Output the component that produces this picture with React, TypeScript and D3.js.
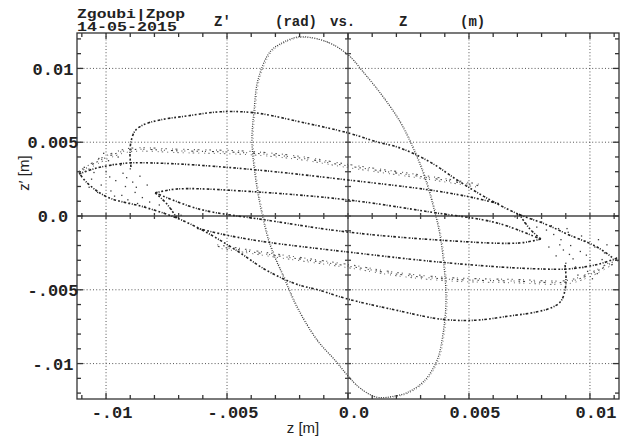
import React from 'react';
import * as d3 from 'd3';

type Pt = [number, number];

// Canvas and plot frame
const W = 620;
const H = 439;
const PLOT = { left: 77, right: 619, top: 33, bottom: 399 };

// Axis domains (metres / radians)
const Z_DOMAIN: [number, number] = [-0.0112, 0.0112];
const ZP_DOMAIN: [number, number] = [-0.0124, 0.0124];

const zTicks = [-0.01, -0.005, 0, 0.005, 0.01];
const zTickLabels = ['-.01', '-.005', '0.0', '0.005', '0.01'];
const zpTicks = [-0.01, -0.005, 0, 0.005, 0.01];
const zpTickLabels = ['-.01', '-.005', '0.0', '0.005', '0.01'];
const MINOR_STEP = 0.001;

// Large upright invariant ellipse (closed)
const bigOrbit: Pt[] = [
  [-1.98e-3, 12.14e-3], [-0.87e-3, 11.8e-3], [0, 10.92e-3], [0.62e-3, 9.77e-3],
  [1.45e-3, 8.07e-3], [2.15e-3, 6.38e-3], [2.69e-3, 4.61e-3], [3.14e-3, 2.78e-3],
  [3.51e-3, 0.75e-3], [3.8e-3, -1.29e-3], [3.97e-3, -3.46e-3], [4.05e-3, -5.7e-3],
  [3.93e-3, -7.94e-3], [3.68e-3, -9.77e-3], [3.14e-3, -11.19e-3], [2.48e-3, -11.94e-3],
  [1.9e-3, -12.21e-3], [1.2e-3, -12.28e-3], [0.5e-3, -11.67e-3], [0, -10.85e-3],
  [-0.54e-3, -9.77e-3], [-1.28e-3, -8.41e-3], [-2.11e-3, -6.17e-3], [-2.64e-3, -4.21e-3],
  [-3.22e-3, -1.97e-3], [-3.59e-3, 0.41e-3], [-3.84e-3, 2.78e-3], [-3.97e-3, 5.16e-3],
  [-3.88e-3, 7.19e-3], [-3.72e-3, 9.23e-3], [-3.22e-3, 11.13e-3], [-2.64e-3, 11.8e-3],
];

// Outer flat orbit: upper branch (left hook -> right tip)
const outerUpper: Pt[] = [
  [-8.97e-3, 3.32e-3], [-9.01e-3, 4.14e-3], [-8.97e-3, 5.02e-3], [-8.8e-3, 5.77e-3],
  [-8.47e-3, 6.17e-3], [-7.77e-3, 6.51e-3], [-6.65e-3, 6.78e-3], [-5.29e-3, 7.06e-3],
  [-3.84e-3, 6.99e-3], [-1.98e-3, 6.38e-3], [0, 5.63e-3], [1.2e-3, 5.02e-3],
  [2.15e-3, 4.61e-3], [3.39e-3, 3.66e-3], [4.63e-3, 2.31e-3], [5.87e-3, 1.09e-3],
  [7.02e-3, 0.14e-3], [8.14e-3, -0.54e-3], [9.05e-3, -1.22e-3], [10.29e-3, -2.1e-3],
  [10.95e-3, -2.85e-3],
];

// Outer flat orbit: lower branch (right hook -> left tip)
const outerLower: Pt[] = [
  [8.97e-3, -3.32e-3], [9.01e-3, -4.14e-3], [8.97e-3, -5.02e-3], [8.8e-3, -5.77e-3],
  [8.47e-3, -6.17e-3], [7.77e-3, -6.51e-3], [6.65e-3, -6.78e-3], [5.29e-3, -7.06e-3],
  [3.84e-3, -6.99e-3], [1.98e-3, -6.38e-3], [0, -5.63e-3], [-1.2e-3, -5.02e-3],
  [-2.15e-3, -4.61e-3], [-3.39e-3, -3.66e-3], [-4.63e-3, -2.31e-3], [-5.87e-3, -1.09e-3],
  [-7.07e-3, -0.14e-3], [-8.43e-3, 0.61e-3], [-9.96e-3, 1.29e-3], [-10.78e-3, 2.24e-3],
  [-11.07e-3, 2.82e-3],
];

// Middle orbit branches
const middleUpper: Pt[] = [
  [-11.12e-3, 2.85e-3], [-10.37e-3, 3.26e-3], [-9.42e-3, 3.53e-3], [-9.01e-3, 3.6e-3],
  [-7.07e-3, 3.53e-3], [-3.76e-3, 3.12e-3], [0, 2.44e-3], [3.39e-3, 1.76e-3],
  [5.04e-3, 1.29e-3], [6.28e-3, 0.81e-3],
];
const middleLower: Pt[] = [
  [11.12e-3, -2.85e-3], [10.37e-3, -3.26e-3], [9.42e-3, -3.53e-3], [9.01e-3, -3.6e-3],
  [7.07e-3, -3.53e-3], [3.76e-3, -3.12e-3], [0, -2.44e-3], [-3.39e-3, -1.76e-3],
  [-5.04e-3, -1.29e-3], [-6.28e-3, -0.81e-3],
];

// Inner arrow-shaped orbit
const innerUpper: Pt[] = [
  [-7.97e-3, 1.56e-3], [-7.07e-3, 1.83e-3], [-3.76e-3, 1.63e-3], [0, 1.09e-3],
  [3.39e-3, 0.27e-3], [6.16e-3, -0.47e-3], [7.85e-3, -1.49e-3],
];
const innerLower: Pt[] = [
  [7.97e-3, -1.56e-3], [7.07e-3, -1.83e-3], [3.76e-3, -1.63e-3], [0, -1.09e-3],
  [-3.39e-3, -0.27e-3], [-6.16e-3, 0.47e-3], [-7.85e-3, 1.49e-3],
];

// Short links between the outer branches and the inner arrow tips
const linkLeft: Pt[] = [[-7.07e-3, -0.14e-3], [-7.52e-3, 0.88e-3], [-7.97e-3, 1.56e-3]];
const linkRight: Pt[] = [[7.07e-3, 0.14e-3], [7.52e-3, -0.88e-3], [7.97e-3, -1.56e-3]];

// Diffuse (scattered) orbit branches
const diffuseUpper: Pt[] = [
  [-11.12e-3, 2.92e-3], [-10.45e-3, 3.6e-3], [-9.75e-3, 4.14e-3], [-9.01e-3, 4.48e-3],
  [-6.94e-3, 4.41e-3], [-4.05e-3, 4.27e-3], [-1.98e-3, 3.93e-3], [0, 3.39e-3],
  [3.39e-3, 2.58e-3], [5.45e-3, 2.04e-3],
];
const diffuseLower: Pt[] = [
  [11.12e-3, -2.92e-3], [10.45e-3, -3.6e-3], [9.75e-3, -4.14e-3], [9.01e-3, -4.48e-3],
  [6.94e-3, -4.41e-3], [4.05e-3, -4.27e-3], [1.98e-3, -3.93e-3], [0, -3.39e-3],
  [-3.39e-3, -2.58e-3], [-5.45e-3, -2.04e-3],
];

// Scattered particles near the turning tips
const cloudLeft: Pt[] = [
  [-10.9e-3, 3.3e-3], [-10.6e-3, 2.5e-3], [-10.3e-3, 3.9e-3], [-10.2e-3, 2.1e-3],
  [-10.0e-3, 3.0e-3], [-9.8e-3, 1.7e-3], [-9.7e-3, 3.5e-3], [-9.6e-3, 2.4e-3],
  [-9.5e-3, 4.0e-3], [-9.35e-3, 1.4e-3], [-9.3e-3, 2.9e-3], [-9.2e-3, 2.0e-3],
  [-9.1e-3, 1.1e-3], [-9.0e-3, 3.2e-3], [-8.9e-3, 2.3e-3], [-8.8e-3, 1.6e-3],
  [-8.7e-3, 0.85e-3], [-8.6e-3, 2.7e-3], [-8.5e-3, 1.25e-3], [-8.4e-3, 0.65e-3],
  [-8.2e-3, 0.95e-3], [-8.0e-3, 0.4e-3], [-7.8e-3, 0.75e-3], [-7.6e-3, 0.2e-3],
  [-10.5e-3, 2.95e-3], [-10.1e-3, 4.25e-3], [-9.65e-3, 1.35e-3], [-9.4e-3, 3.45e-3],
  [-9.05e-3, 0.85e-3], [-10.7e-3, 1.95e-3], [-9.85e-3, 2.65e-3], [-8.3e-3, 2.1e-3],
  [-7.3e-3, 0.45e-3], [-6.9e-3, 0.05e-3], [-10.35e-3, 1.6e-3], [-9.9e-3, 3.75e-3],
  [-9.15e-3, 2.6e-3], [-8.75e-3, 1.95e-3],
];
const cloudRight: Pt[] = [
  [10.9e-3, -3.3e-3], [10.6e-3, -2.5e-3], [10.3e-3, -3.9e-3], [10.2e-3, -2.1e-3],
  [10.0e-3, -3.0e-3], [9.8e-3, -1.7e-3], [9.7e-3, -3.5e-3], [9.6e-3, -2.4e-3],
  [9.5e-3, -4.0e-3], [9.35e-3, -1.4e-3], [9.3e-3, -2.9e-3], [9.2e-3, -2.0e-3],
  [9.1e-3, -1.1e-3], [9.0e-3, -3.2e-3], [8.9e-3, -2.3e-3], [8.8e-3, -1.6e-3],
  [8.7e-3, -0.85e-3], [8.6e-3, -2.7e-3], [8.5e-3, -1.25e-3], [8.4e-3, -0.65e-3],
  [8.2e-3, -0.95e-3], [8.0e-3, -0.4e-3], [7.8e-3, -0.75e-3], [7.6e-3, -0.2e-3],
  [10.5e-3, -2.95e-3], [10.1e-3, -4.25e-3], [9.65e-3, -1.35e-3], [9.4e-3, -3.45e-3],
  [9.05e-3, -0.85e-3], [10.7e-3, -1.95e-3], [9.85e-3, -2.65e-3], [8.3e-3, -2.1e-3],
  [7.3e-3, -0.45e-3], [6.9e-3, -0.05e-3], [10.35e-3, -1.6e-3], [9.9e-3, -3.75e-3],
  [9.15e-3, -2.6e-3], [8.75e-3, -1.95e-3],
];

const MONO = "'Liberation Mono', 'DejaVu Sans Mono', 'Courier New', monospace";
const SANS = "'Liberation Sans', Arial, Helvetica, sans-serif";
const INK = '#222';

export default function App() {
  const x = d3.scaleLinear().domain(Z_DOMAIN).range([PLOT.left, PLOT.right]);
  const y = d3.scaleLinear().domain(ZP_DOMAIN).range([PLOT.bottom, PLOT.top]);

  const open = d3
    .line<Pt>()
    .x((d) => x(d[0]))
    .y((d) => y(d[1]))
    .curve(d3.curveCatmullRom.alpha(0.5));
  const closed = d3
    .line<Pt>()
    .x((d) => x(d[0]))
    .y((d) => y(d[1]))
    .curve(d3.curveCatmullRomClosed.alpha(0.5));

  const zMinor = d3.range(-11, 12).map((k) => k * MINOR_STEP);
  const zpMinor = d3.range(-12, 13).map((k) => k * MINOR_STEP);
  const isMajor = (v: number) => Math.abs(Math.round(v * 1000) % 5) === 0;

  const x0 = x(0);
  const y0 = y(0);

  const sharpBranches = [outerUpper, outerLower, middleUpper, middleLower, innerUpper, innerLower, linkLeft, linkRight];
  const diffuseBranches = [diffuseUpper, diffuseLower];

  return (
    <svg
      width={W}
      height={H}
      viewBox={`0 0 ${W} ${H}`}
      style={{ position: 'absolute', left: 0, top: 0, background: '#fff' }}
    >
      <rect x={0} y={0} width={W} height={H} fill="#fff" />

      {/* dotted grid at major ticks */}
      <g stroke="#555" strokeWidth={1} strokeDasharray="1 2.2">
        {zTicks.filter((v) => v !== 0).map((v) => (
          <line key={`gx${v}`} x1={x(v)} x2={x(v)} y1={PLOT.top} y2={PLOT.bottom} />
        ))}
        {zpTicks.filter((v) => v !== 0).map((v) => (
          <line key={`gy${v}`} x1={PLOT.left} x2={PLOT.right} y1={y(v)} y2={y(v)} />
        ))}
      </g>

      {/* zero axes with cross ticks */}
      <g stroke="#444" strokeWidth={1.3}>
        <line x1={x0} x2={x0} y1={PLOT.top} y2={PLOT.bottom} />
        <line x1={PLOT.left} x2={PLOT.right} y1={y0} y2={y0} />
        {zpMinor.map((v) => (
          <line key={`ay${v}`} x1={x0 - 3} x2={x0 + 3} y1={y(v)} y2={y(v)} />
        ))}
        {zMinor.map((v) => (
          <line key={`ax${v}`} x1={x(v)} x2={x(v)} y1={y0 - 3} y2={y0 + 3} />
        ))}
      </g>

      {/* frame and frame ticks */}
      <g stroke="#333" strokeWidth={1.3}>
        <rect
          x={PLOT.left}
          y={PLOT.top}
          width={PLOT.right - PLOT.left}
          height={PLOT.bottom - PLOT.top}
          fill="none"
        />
        {zMinor.map((v) => {
          const len = isMajor(v) ? 6 : 4;
          return (
            <g key={`fx${v}`}>
              <line x1={x(v)} x2={x(v)} y1={PLOT.bottom} y2={PLOT.bottom - len} />
              <line x1={x(v)} x2={x(v)} y1={PLOT.top} y2={PLOT.top + len} />
            </g>
          );
        })}
        {zpMinor.map((v) => {
          const len = isMajor(v) ? 6 : 4;
          return (
            <g key={`fy${v}`}>
              <line x1={PLOT.left} x2={PLOT.left + len} y1={y(v)} y2={y(v)} />
              <line x1={PLOT.right} x2={PLOT.right - len} y1={y(v)} y2={y(v)} />
            </g>
          );
        })}
      </g>

      {/* tracked particle traces */}
      <g fill="none" strokeLinecap="butt">
        <path d={closed(bigOrbit) ?? ''} stroke="#3c3c3c" strokeWidth={1.2} strokeDasharray="1 1.3" />
        <path
          d={closed(bigOrbit) ?? ''}
          transform="translate(1.2,0.6)"
          stroke="#777"
          strokeWidth={0.9}
          strokeDasharray="0.9 2.6"
        />
        {sharpBranches.map((b, i) => (
          <path
            key={`sb${i}`}
            d={open(b) ?? ''}
            stroke="#222"
            strokeWidth={1.6}
            strokeDasharray="2.6 1.2 1 1.6 1.8 2.2"
          />
        ))}
        {diffuseBranches.map((b, i) => (
          <g key={`db${i}`}>
            <path d={open(b) ?? ''} transform="translate(0,-1.6)" stroke="#555" strokeWidth={1.1} strokeDasharray="1 3 1.5 5 1 2.5 2 6" />
            <path d={open(b) ?? ''} stroke="#444" strokeWidth={1.1} strokeDasharray="1.5 4 1 2 1 6 2 3" />
            <path d={open(b) ?? ''} transform="translate(0.8,1.8)" stroke="#666" strokeWidth={1} strokeDasharray="1 5 1 3 1.5 4" />
          </g>
        ))}
      </g>
      <g fill="#3a3a3a">
        {[...cloudLeft, ...cloudRight].map((p, i) => (
          <rect key={`c${i}`} x={x(p[0]) - 0.6} y={y(p[1]) - 0.6} width={1.3} height={1.3} />
        ))}
      </g>

      {/* tick labels */}
      <g fontFamily={MONO} fontWeight="bold" fontSize={17} fill={INK}>
        {zTicks.map((v, i) => (
          <text key={`tx${v}`} x={x(v) + 6} y={418} textAnchor="middle">
            {zTickLabels[i]}
          </text>
        ))}
        {zpTicks.map((v, i) => (
          <text key={`ty${v}`} x={53} y={y(v)} dy="0.36em" textAnchor="middle">
            {zpTickLabels[i]}
          </text>
        ))}
      </g>

      {/* axis titles */}
      <text x={303} y={433} textAnchor="middle" fontFamily={SANS} fontSize={15} fill={INK}>
        z [m]
      </text>
      <text
        transform="translate(29,173) rotate(-90)"
        textAnchor="middle"
        fontFamily={SANS}
        fontSize={15}
        fill={INK}
      >
        z′ [m]
      </text>

      {/* header */}
      <g fontFamily={MONO} fontWeight="bold" fill={INK}>
        <text x={77} y={18} fontSize={12.5} textLength={108} lengthAdjust="spacingAndGlyphs">
          Zgoubi|Zpop
        </text>
        <text x={77} y={31} fontSize={12.5} textLength={100} lengthAdjust="spacingAndGlyphs">
          14-05-2015
        </text>
        <g fontSize={14}>
          <text x={214} y={26}>Z′</text>
          <text x={275} y={26}>(rad)</text>
          <text x={330} y={26}>vs.</text>
          <text x={399} y={26}>Z</text>
          <text x={460} y={26}>(m)</text>
        </g>
      </g>
    </svg>
  );
}
